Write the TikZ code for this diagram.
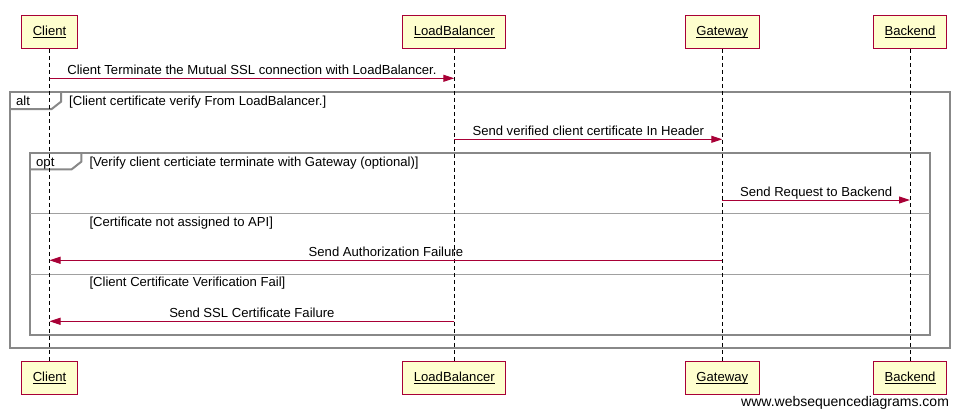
\documentclass[tikz,border=0pt]{standalone}
\usepackage{fontspec}
\setmainfont{Liberation Sans}
\usetikzlibrary{arrows.meta}
\definecolor{wsdred}{HTML}{A80036}
\definecolor{wsdyellow}{HTML}{FEFECE}
\definecolor{wsdgray}{HTML}{888888}
\newcommand{\actorname}[1]{\underline{\smash{#1}}}
\tikzset{
  actor/.style={draw=wsdred, fill=wsdyellow, line width=1pt, minimum height=33pt, inner xsep=11pt, text height=9.5pt, text depth=2.5pt},
  lifeline/.style={dash pattern=on 4pt off 3pt, line width=0.8pt},
  msg/.style={wsdred, line width=1pt, -{Triangle[length=11pt,width=7pt]}},
  msglabel/.style={above, inner sep=1pt, text height=9.5pt, text depth=2.5pt, text=black},
  frame/.style={wsdgray, line width=2pt},
  divider/.style={wsdgray!80, line width=1pt},
  guard/.style={anchor=base west, inner sep=0pt},
}
\begin{document}
\begin{tikzpicture}[x=1pt, y=-1pt, font=\fontsize{13.1}{15}\selectfont]
    \useasboundingbox (0, 0) rectangle (961, 418);
    \draw[frame] (10, 92) rectangle (950, 347.7);
    \draw[frame] (10, 109) -- (51.7, 109) -- (61, 101.7) -- (61, 92);
    \node[guard] (altlbl) at (16, 105) {alt};
    \node[guard] (altguard) at (69, 105) {[Client certificate verify From LoadBalancer.]};
    \draw[frame] (30, 153) rectangle (930, 334.7);
    \draw[frame] (30, 169.3) -- (71.7, 169.3) -- (81.3, 161.7) -- (81.3, 153);
    \node[guard] (optlbl) at (36, 166) {opt};
    \node[guard] (optguard) at (89.3, 166) {[Verify client certiciate terminate with Gateway (optional)]};
    \draw[divider] (30, 213.3) -- (930, 213.3);
    \node[guard] (elseguard1) at (89.3, 226.7) {[Certificate not assigned to API]};
    \draw[divider] (30, 274) -- (930, 274);
    \node[guard] (elseguard2) at (89.3, 286.7) {[Client Certificate Verification Fail]};
    \node[actor] (client) at (49.5, 31.8) {\actorname{Client}};
    \node[actor] (lb) at (454.3, 31.8) {\actorname{LoadBalancer}};
    \node[actor] (gw) at (722.3, 31.8) {\actorname{Gateway}};
    \node[actor] (be) at (910, 31.8) {\actorname{Backend}};
    \node[actor] (clientB) at (49.5, 377.8) {\actorname{Client}};
    \node[actor] (lbB) at (454.3, 377.8) {\actorname{LoadBalancer}};
    \node[actor] (gwB) at (722.3, 377.8) {\actorname{Gateway}};
    \node[actor] (beB) at (910, 377.8) {\actorname{Backend}};
    \draw[lifeline] (client) -- (clientB);
    \draw[lifeline] (lb) -- (lbB);
    \draw[lifeline] (gw) -- (gwB);
    \draw[lifeline] (be) -- (beB);
    \coordinate (m1) at (0, 78.3);
    \coordinate (m2) at (0, 139.3);
    \coordinate (m3) at (0, 200);
    \coordinate (m4) at (0, 260.3);
    \coordinate (m5) at (0, 321.3);
    \draw[msg] (client |- m1) -- node[msglabel] {Client Terminate the Mutual SSL connection with LoadBalancer.} (lb |- m1);
    \draw[msg] (lb |- m2) -- node[msglabel] {Send verified client certificate In Header} (gw |- m2);
    \draw[msg] (gw |- m3) -- node[msglabel] {Send Request to Backend} (be |- m3);
    \draw[msg] (gw |- m4) -- node[msglabel] {Send Authorization Failure} (client |- m4);
    \draw[msg] (lb |- m5) -- node[msglabel] {Send SSL Certificate Failure} (client |- m5);
    \node[guard, font=\fontsize{14}{16}\selectfont] (wsd) at (741, 406) {www.websequencediagrams.com};
\end{tikzpicture}
\end{document}
